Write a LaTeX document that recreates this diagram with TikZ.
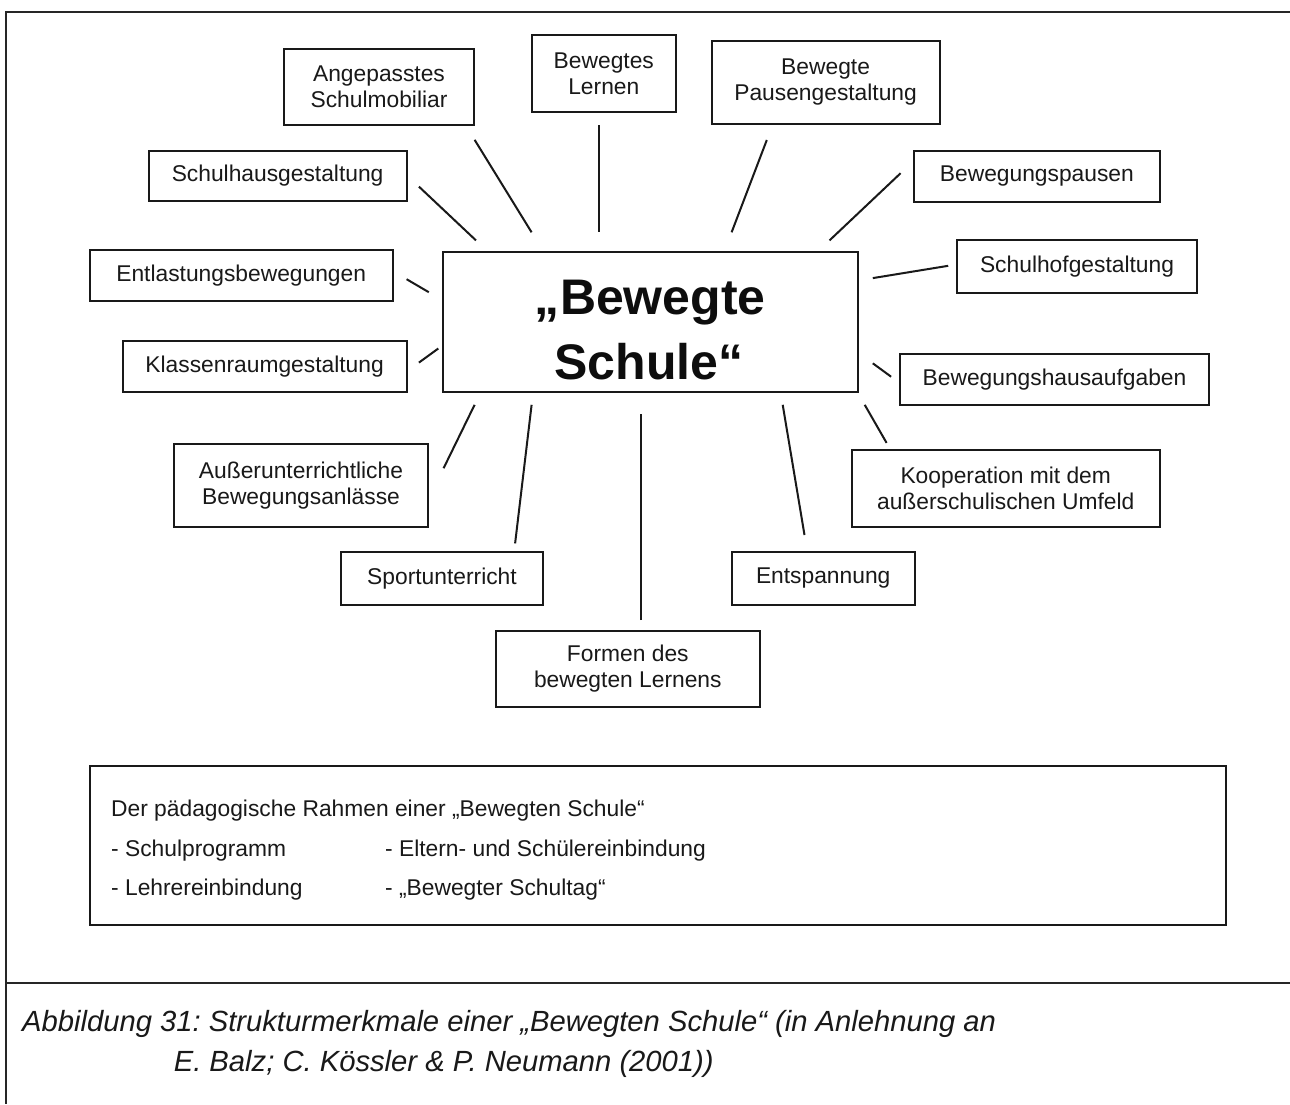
\documentclass[tikz,border=0pt]{standalone}
\usepackage{fontspec}
\setmainfont{Liberation Sans}
\frenchspacing
\begin{document}
\begin{tikzpicture}[x=1pt,y=-1pt]
\tikzset{
 box/.style={draw=black!90, line width=2pt, align=center, inner sep=0pt, font=\fontsize{22.8}{26}\selectfont, text=black!90},
 conn/.style={line width=2pt, draw=black!90},
 frameline/.style={line width=2pt, draw=black!85},
 bigtext/.style={anchor=base, inner sep=0pt, font=\fontsize{50}{60}\selectfont\bfseries, text=black!95},
 ptext/.style={anchor=base west, inner sep=0pt, font=\fontsize{22.8}{26}\selectfont, text=black!90},
 captext/.style={anchor=base west, inner sep=0pt, font=\fontsize{29.2}{32}\selectfont\itshape, text=black!90},
}
\useasboundingbox (0,0) rectangle (1290,1104);
\fill[white] (0,0) rectangle (1290,1104);
% frame
\draw[frameline] (1290,11.6) -- (6.3,11.6) -- (6.3,1104);
\draw[frameline] (6.3,983) -- (1290,983);

% central node
\node[box, minimum width=414.6pt, minimum height=139.8pt] (center) at (650.3,321.6) {};
\node[bigtext] (ct1) at (650.3,314) {„Bewegte};
\node[bigtext] (ct2) at (649,379) {Schule“};

% surrounding boxes
\node[box, minimum width=190pt, minimum height=76pt] (ang) at (379,87) {Angepasstes\\Schulmobiliar};
\node[box, minimum width=144.4pt, minimum height=76.8pt] (bl) at (603.8,73.6) {Bewegtes\\Lernen};
\node[box, minimum width=228pt, minimum height=83.5pt] (bpg) at (825.6,82.3) {Bewegte\\Pausengestaltung};
\node[box, minimum width=245.7pt, minimum height=51pt] (bp) at (1036.9,176.2) {Bewegungspausen};
\node[box, minimum width=258pt, minimum height=49.3pt] (sh) at (277.6,176) {Schulhausgestaltung};
\node[box, minimum width=302.7pt, minimum height=51pt] (ent) at (241.2,275.5) {Entlastungsbewegungen};
\node[box, minimum width=284pt, minimum height=51pt] (kl) at (264.6,366.3) {Klassenraumgestaltung};
\node[box, minimum width=240pt, minimum height=52.8pt] (shof) at (1077,266.8) {Schulhofgestaltung};
\node[box, minimum width=309pt, minimum height=51pt] (bha) at (1054.5,379.3) {Bewegungshausaufgaben};
\node[box, minimum width=308pt, minimum height=77.5pt] (koop) at (1005.7,488.3) {Kooperation mit dem\\außerschulischen Umfeld};
\node[box, minimum width=254.8pt, minimum height=83.4pt] (au) at (301,485.3) {Außerunterrichtliche\\Bewegungsanlässe};
\node[box, minimum width=202.5pt, minimum height=53pt] (sport) at (442,578.5) {Sportunterricht};
\node[box, minimum width=183pt, minimum height=53pt] (entsp) at (823.2,578.5) {Entspannung};
\node[box, minimum width=264pt, minimum height=76.3pt] (formen) at (627.8,668.9) {Formen des\\bewegten Lernens};

% connector end points
\coordinate (angA) at (474.6,139.8);   \coordinate (angB) at (531.6,232.3);
\coordinate (blA) at (598.5,125);      \coordinate (blB) at (598.5,232.3);
\coordinate (bpgA) at (766.8,140);     \coordinate (bpgB) at (731.6,232.3);
\coordinate (bpA) at (900.6,173.2);    \coordinate (bpB) at (829.5,240.4);
\coordinate (shA) at (418.9,186.6);    \coordinate (shB) at (476,240.4);
\coordinate (entA) at (406.6,279.2);   \coordinate (entB) at (428.8,292.2);
\coordinate (klA) at (418.9,362.6);    \coordinate (klB) at (438.3,348.5);
\coordinate (shofA) at (948.2,265.8);  \coordinate (shofB) at (872.8,278.1);
\coordinate (bhaA) at (891.1,376.7);   \coordinate (bhaB) at (872.8,363.3);
\coordinate (koopA) at (886.6,442.9);  \coordinate (koopB) at (864.7,404.8);
\coordinate (auA) at (443.6,468.2);    \coordinate (auB) at (474.6,404.8);
\coordinate (sportA) at (515.1,543.4); \coordinate (sportB) at (531.6,404.8);
\coordinate (formenA) at (641,620);    \coordinate (formenB) at (641,413.6);
\coordinate (entspA) at (804.5,535);   \coordinate (entspB) at (782.7,404.8);

\foreach \n in {ang,bl,bpg,bp,sh,ent,kl,shof,bha,koop,au,sport,formen,entsp}
  \draw[conn] (\n A) -- (\n B);

% pedagogical frame
\node[draw=black!90, line width=2pt, minimum width=1135.8pt, minimum height=159.3pt, inner sep=0pt] (ped) at (657.7,845.3) {};
\node[ptext] (p0) at (111,816) {Der pädagogische Rahmen einer „Bewegten Schule“};
\node[ptext] (p1) at (111,856.5) {- Schulprogramm};
\node[ptext] (p2) at (111,895) {- Lehrereinbindung};
\node[ptext] (p3) at (385,856.5) {- Eltern- und Schülereinbindung};
\node[ptext] (p4) at (385,895) {- „Bewegter Schultag“};

% caption
\node[captext] (cap1) at (22,1031.7) {Abbildung 31: Strukturmerkmale einer „Bewegten Schule“ (in Anlehnung an};
\node[captext] (cap2) at (173.6,1071.5) {E. Balz; C. Kössler \& P. Neumann (2001))};
\end{tikzpicture}
\end{document}
